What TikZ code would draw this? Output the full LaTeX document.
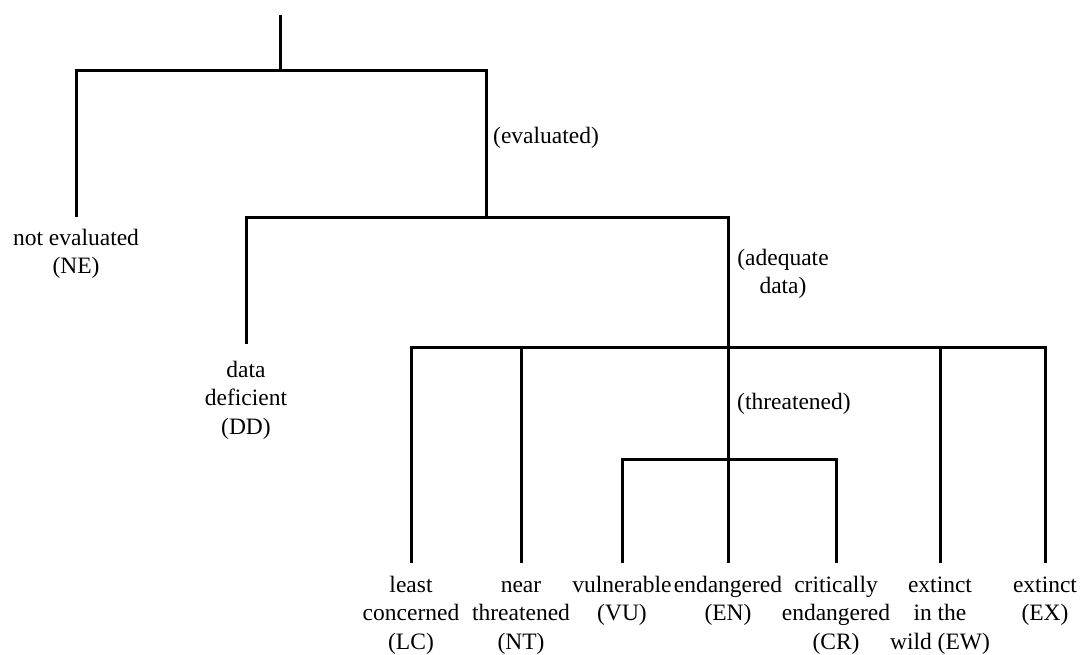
\documentclass[tikz,border=0pt]{standalone}
\usepackage{fontspec}
\setmainfont{Liberation Serif}
\begin{document}
\begin{tikzpicture}[x=1pt,y=-1pt,
  every node/.style={font=\fontsize{23.5}{28.6}\selectfont, inner sep=0pt},
  branch/.style={line width=3pt, line join=miter},
  leaf/.style={anchor=north, align=center, outer xsep=0pt, outer ysep=9pt},
  tag/.style={anchor=west, align=center}]
\fill[white] (0,0) rectangle (1082,655);
\useasboundingbox (0,0) rectangle (1082,655);
% junctions
\coordinate (r) at (280,15);
\coordinate (j1) at (280,71);
\coordinate (j2) at (486,218);
\coordinate (j3) at (728,347);
\coordinate (j4) at (728,459);
% leaves
\node[leaf, outer ysep=8pt] (ne) at (76,217) {\strut not evaluated\\(NE)};
\node[leaf, outer ysep=13pt] (dd) at (246,344) {\strut data\\deficient\\(DD)};
\node[leaf] (lc) at (411,563) {\strut least\\concerned\\(LC)};
\node[leaf] (nt) at (521,563) {\strut near\\threatened\\(NT)};
\node[leaf] (vu) at (622,563) {\strut vulnerable\\(VU)};
\node[leaf] (en) at (728,563) {\strut endangered\\(EN)};
\node[leaf] (cr) at (836,563) {\strut critically\\endangered\\(CR)};
\node[leaf] (ew) at (940,563) {\strut extinct\\in the\\wild (EW)};
\node[leaf] (ex) at (1045,563) {\strut extinct\\(EX)};
% branch labels
\node[tag] (lev) at (493,138) {\strut(evaluated)};
\node[align=center] (lad) at (783,272) {\strut(adequate\\data)};
\node[tag] (lth) at (737,404) {\strut(threatened)};
% connectors
\draw[branch] (r) -- (j1);
\draw[branch] (ne) |- (j1) -| (j2);
\draw[branch] (dd) |- (j2) -| (j3);
\draw[branch] (lc) |- (j3) -| (ex);
\draw[branch] (nt) -- (nt |- j3);
\draw[branch] (ew) -- (ew |- j3);
\draw[branch] (en) -- (j3);
\draw[branch] (vu) |- (j4) -| (cr);
\end{tikzpicture}
\end{document}
